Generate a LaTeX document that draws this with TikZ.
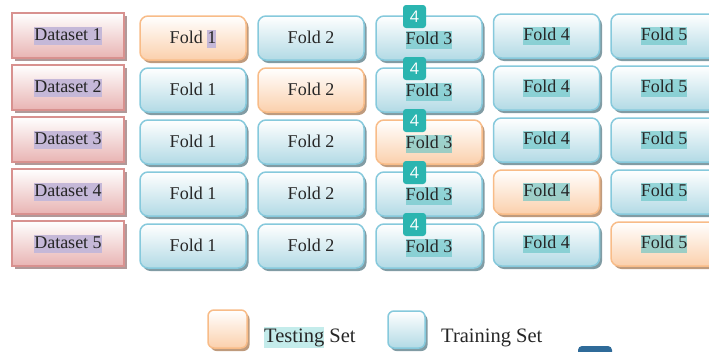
\documentclass[tikz,border=0pt]{standalone}
\usepackage{fontspec}
\setmainfont{Liberation Serif}
\newfontfamily\badgefont{Open Sans}
\usetikzlibrary{shadows}
\definecolor{dsborder}{HTML}{D8918F}
\definecolor{dsbottom}{HTML}{E8B4B3}
\definecolor{dsshadow}{HTML}{A98E8E}
\definecolor{trborder}{HTML}{86C9DC}
\definecolor{trbottom}{HTML}{B2DAE5}
\definecolor{trshadow}{HTML}{73919A}
\definecolor{teborder}{HTML}{F8BC88}
\definecolor{tebottom}{HTML}{FBD0AC}
\definecolor{teshadow}{HTML}{B8906F}
\definecolor{hlpurple}{HTML}{C5B8D8}
\definecolor{hlteal}{HTML}{5EC2C4}
\definecolor{hllight}{HTML}{C4ECEB}
\definecolor{badgecol}{HTML}{2BB5B0}
\definecolor{darkblue}{HTML}{2F6B99}
\definecolor{txtcol}{HTML}{262626}
\newcommand\hlbox[2]{{\setlength{\fboxsep}{0pt}\colorbox{#1}{\vrule height 13.5pt depth 4.5pt width 0pt #2}}}
\begin{document}
\begin{tikzpicture}[x=1pt,y=-1pt,
  base/.style={minimum width=106pt, minimum height=44pt, rounded corners=8pt, line width=1.5pt, inner sep=0pt},
  train/.style={base, draw=trborder, top color=white, bottom color=trbottom,
    drop shadow={shadow xshift=2.5pt, shadow yshift=-3pt, fill=trshadow, opacity=0.9}},
  test/.style={base, draw=teborder, top color=white, bottom color=tebottom,
    drop shadow={shadow xshift=2.5pt, shadow yshift=-3pt, fill=teshadow, opacity=0.9}},
  dataset/.style={rectangle, minimum width=112pt, minimum height=45pt, inner sep=0pt, line width=1.8pt,
    draw=dsborder, top color=white, bottom color=dsbottom,
    drop shadow={shadow xshift=2.5pt, shadow yshift=-3pt, fill=dsshadow, opacity=0.9}},
  txt/.style={inner xsep=0pt, inner ysep=0pt, text height=13.5pt, text depth=4.5pt, text=txtcol,
    font=\fontsize{18}{21}\selectfont},
  hlt/.style={txt, fill=hlteal, fill opacity=0.6, text opacity=1},
  hlp/.style={txt, fill=hlpurple},
  badge/.style={fill=badgecol, rounded corners=3pt, minimum size=23pt, inner sep=0pt, text=white,
    font=\badgefont\fontsize{16}{16}\selectfont},
  legtxt/.style={inner sep=0pt, text=txtcol, font=\fontsize{20.5}{24}\selectfont, anchor=base west},
]
\useasboundingbox (0,0) rectangle (709,351);
\clip (0,0) rectangle (709,351);

\foreach \i in {1,...,5}{
  \pgfmathsetmacro\yd{35.5+52*(\i-1)}
  \node[dataset] (d\i) at (68,\yd) {};
  \node[hlp] (dt\i) at (d\i.center) {Dataset \i};
  \foreach \j/\x in {1/193,2/311,3/429,4/546.5,5/664}{
    \pgfmathsetmacro\yf{(\j<4 ? 38 : 36)+52*(\i-1)}
    \ifnum\i=\j \def\st{test}\else\def\st{train}\fi
    \node[\st] (f\i\j) at (\x,\yf) {};
  }
}

\node[txt] (t11) at ([yshift=-1pt]f11.center) {Fold \hlbox{hlpurple}{1}};
\foreach \i in {2,...,5} \node[txt] (t\i1) at ([yshift=-1pt]f\i1.center) {Fold 1};
\foreach \i in {1,...,5} \node[txt] (t\i2) at ([yshift=-1pt]f\i2.center) {Fold 2};
\foreach \i in {1,...,5} \node[hlt] (t\i3) at ([yshift=-2pt]f\i3.center) {Fold 3};
\foreach \i in {1,...,5} \foreach \j in {4,5} \node[hlt] (t\i\j) at (f\i\j.center) {Fold \j};

\foreach \i in {1,...,5} \node[badge] (b\i) at (414.5,{16.5+52*(\i-1)}) {4};

\node[test, minimum width=39pt, minimum height=38pt, rounded corners=6pt] (lte) at (227.5,329) {};
\node[legtxt] (ltet) at (264,342) {{\setlength{\fboxsep}{0pt}\colorbox{hllight}{\vrule height 15pt depth 6pt width 0pt Testing}} Set};
\node[train, minimum width=37pt, minimum height=37pt, rounded corners=6pt] (ltr) at (406.5,329.5) {};
\node[legtxt] (ltrt) at (441,342) {Training Set};

\node[fill=darkblue, rounded corners=4pt, minimum width=34pt, minimum height=14pt, inner sep=0pt] (db) at (595,353) {};
\end{tikzpicture}
\end{document}
